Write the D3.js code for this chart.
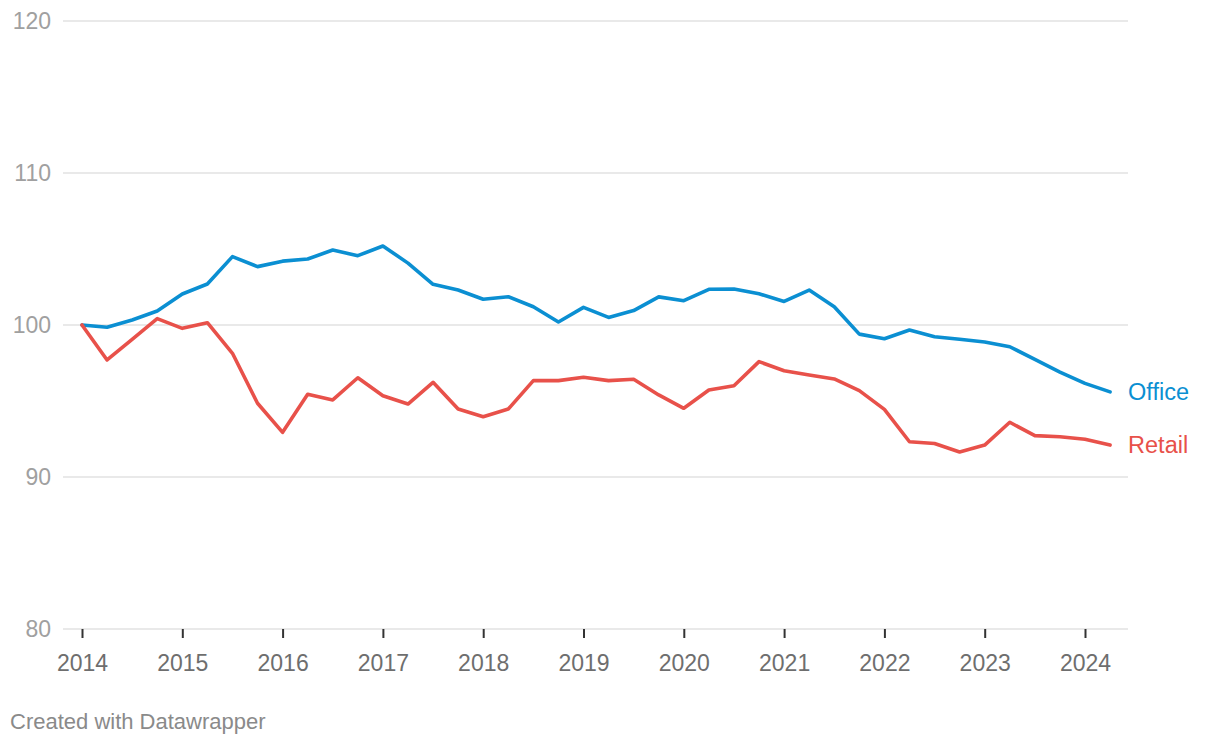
<!DOCTYPE html>
<html>
<head>
<meta charset="utf-8">
<script src="https://cdn.jsdelivr.net/npm/d3@7"></script>
<style>
  html, body { margin: 0; padding: 0; background: #fff; }
  svg text { font-family: "Liberation Sans", Arial, Helvetica, sans-serif; }
</style>
</head>
<body>
<svg id="chart" width="1220" height="746"></svg>
<script>
// Quarterly index (2014 Q1 = 100), 2014 Q1 .. 2024 Q2
const startYear = 2014;
const office = [100.0, 99.85, 100.33, 100.92, 102.04, 102.7, 104.5, 103.84, 104.2, 104.34,
  104.93, 104.56, 105.2, 104.07, 102.68, 102.3, 101.69, 101.86, 101.2, 100.2,
  101.16, 100.5, 100.95, 101.85, 101.6, 102.35, 102.37, 102.05, 101.55, 102.3,
  101.2, 99.4, 99.1, 99.67, 99.23, 99.06, 98.88, 98.57, 97.74, 96.9,
  96.16, 95.6];
const retail = [100.0, 97.7, 99.06, 100.42, 99.78, 100.15, 98.14, 94.85, 92.94, 95.44,
  95.07, 96.53, 95.35, 94.8, 96.23, 94.47, 93.97, 94.47, 96.34, 96.34,
  96.56, 96.34, 96.43, 95.4, 94.52, 95.72, 96.0, 97.59, 96.99, 96.71,
  96.45, 95.68, 94.45, 92.32, 92.2, 91.64, 92.1, 93.6, 92.72, 92.65,
  92.48, 92.1];
const seriesNames = ["Office", "Retail"];
const seriesColors = ["#0b8fd2", "#e8514a"];
const yTicks = [80, 90, 100, 110, 120];
const xTicks = [2014, 2015, 2016, 2017, 2018, 2019, 2020, 2021, 2022, 2023, 2024];

const svg = d3.select("#chart");
const x = d3.scaleLinear().domain([2014, 2024]).range([82, 1085]);
const y = d3.scaleLinear().domain([80, 120]).range([629, 21]);
const gridX0 = 63, gridX1 = 1128;

// gridlines + y labels
const g = svg.append("g");
g.selectAll("line.grid").data(yTicks).join("line")
  .attr("class", "grid")
  .attr("x1", gridX0).attr("x2", gridX1)
  .attr("y1", d => y(d)).attr("y2", d => y(d))
  .attr("stroke", "#e2e2e2").attr("stroke-width", 1.3);
g.selectAll("text.ylab").data(yTicks).join("text")
  .attr("class", "ylab")
  .attr("x", 51).attr("y", d => y(d))
  .attr("dy", "0.36em")
  .attr("text-anchor", "end")
  .attr("fill", "#a0a0a0")
  .attr("font-size", 23)
  .text(d => d);

// x axis
const xAxis = d3.axisBottom(x).tickValues(xTicks).tickFormat(d3.format("d"))
  .tickSize(9).tickPadding(17);
const ax = svg.append("g").attr("transform", `translate(0,${y(80)})`).call(xAxis);
ax.select(".domain").remove();
ax.selectAll(".tick line").attr("stroke", "#333").attr("stroke-width", 2);
ax.selectAll(".tick text").attr("fill", "#6e6e6e").attr("font-size", 23)
  .style("font-family", '"Liberation Sans", Arial, sans-serif');

// lines
const data = [office, retail];
const line = d3.line()
  .x((d, i) => x(startYear + i / 4))
  .y(d => y(d));
svg.selectAll("path.series").data(data).join("path")
  .attr("class", "series")
  .attr("d", line)
  .attr("fill", "none")
  .attr("stroke", (d, i) => seriesColors[i])
  .attr("stroke-width", 3.6)
  .attr("stroke-linejoin", "round")
  .attr("stroke-linecap", "round");

// direct labels
svg.selectAll("text.slab").data(data).join("text")
  .attr("class", "slab")
  .attr("x", (d, i) => x(startYear + (d.length - 1) / 4) + 18)
  .attr("y", (d, i) => y(d[d.length - 1]))
  .attr("dy", "0.33em")
  .attr("fill", (d, i) => seriesColors[i])
  .attr("font-size", 23.5)
  .text((d, i) => seriesNames[i]);

// footer
svg.append("text")
  .attr("x", 10).attr("y", 729)
  .attr("fill", "#8a8a8a")
  .attr("font-size", 22)
  .text("Created with Datawrapper");
</script>
</body>
</html>
